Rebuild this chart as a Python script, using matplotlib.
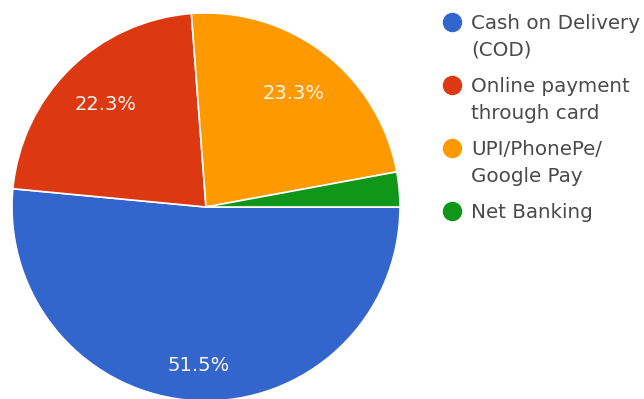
import matplotlib.pyplot as plt

labels = ['Cash on Delivery\n(COD)', 'Online payment\nthrough card',
          'UPI/PhonePe/\nGoogle Pay', 'Net Banking']
shares = [51.5, 22.3, 23.3, 2.9]
colors = ['#3366cc', '#dc3912', '#ff9900', '#109618']

plt.rcParams['font.family'] = ['DejaVu Sans']

W, H = 644, 399
fig = plt.figure(figsize=(W / 100, H / 100), dpi=100)

# pie axes: centre (206, 207) px, radius 194 px
cx, cy, r = 206, 207, 194
ax = fig.add_axes([(cx - r) / W, (H - cy - r) / H, 2 * r / W, 2 * r / H])
wedges, _, autotexts = ax.pie(
    shares, colors=colors, startangle=0, counterclock=False, radius=1,
    autopct=lambda p: f'{p:.1f}%' if p > 5 else '', pctdistance=0.74,
    wedgeprops=dict(edgecolor='white', linewidth=1.2),
    textprops=dict(color='#fff4ee', fontsize=14))
# the big slice label sits further out
x, y = autotexts[0].get_position()
autotexts[0].set_position((x * 0.82 / 0.74, y * 0.82 / 0.74))
ax.set_xlim(-1, 1)
ax.set_ylim(-1, 1)
ax.axis('off')

# legend drawn by hand: dot + two-line label per entry
y0, step, line = 22, 63, 27
for i, (lab, col) in enumerate(zip(labels, colors)):
    yy = y0 + i * step
    fig.lines.append(plt.Line2D([452 / W], [1 - yy / H], marker='o', markersize=13,
                                color=col, linestyle='none', transform=fig.transFigure))
    for j, part in enumerate(lab.split('\n')):
        fig.text(471 / W, 1 - (yy + j * line + 7) / H, part, fontsize=14.3,
                 color='#4a4a4a', va='baseline', ha='left')

fig.savefig('out.png', dpi=100, facecolor='white')
